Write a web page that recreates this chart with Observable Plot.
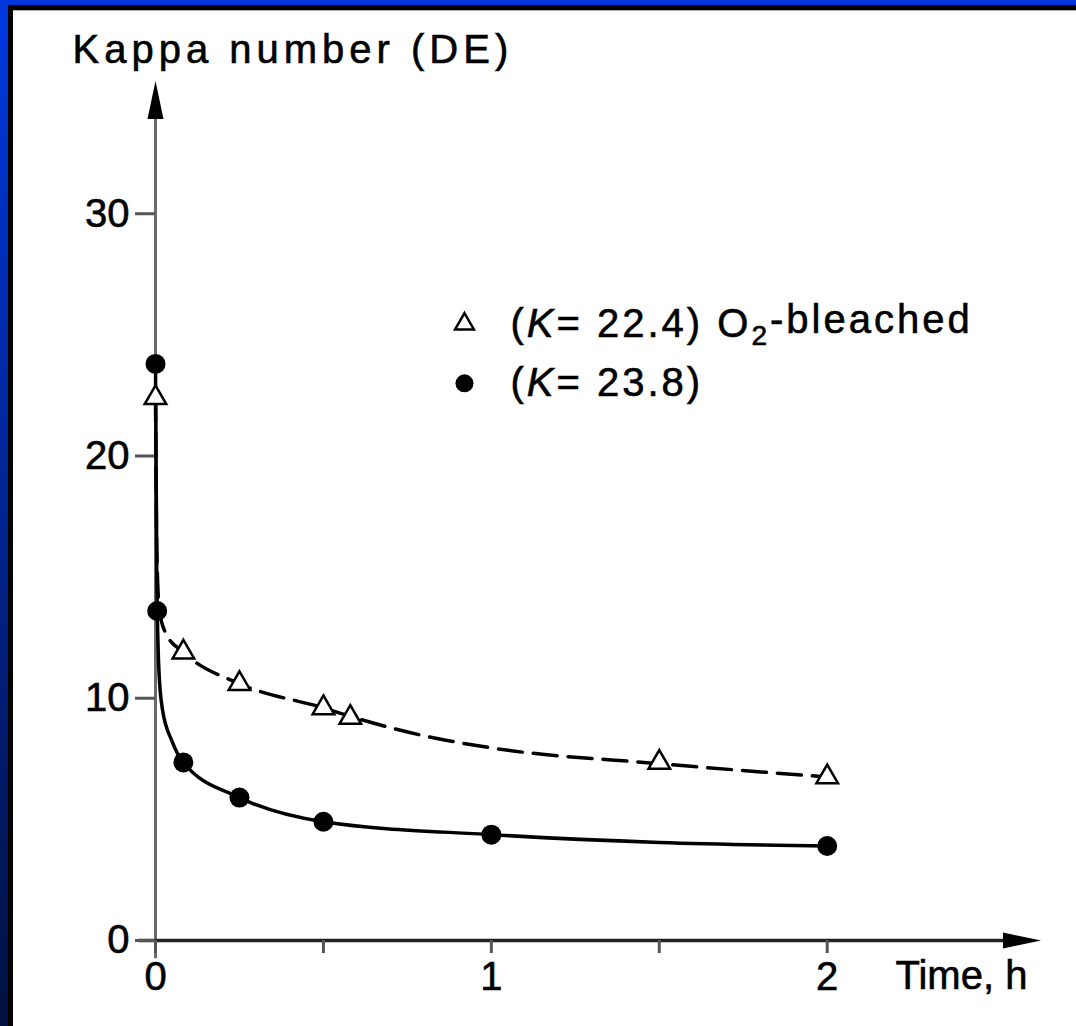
<!DOCTYPE html>
<html><head><meta charset="utf-8">
<script src="https://cdn.jsdelivr.net/npm/d3@7"></script>
<script src="https://cdn.jsdelivr.net/npm/@observablehq/plot@0.6"></script>
<style>
html,body{margin:0;padding:0;background:#fff;}
#frame{position:relative;width:1076px;height:1026px;background:#fff;overflow:hidden;}
.strip{position:absolute;}
#chart{position:absolute;left:0;top:0;}
#chart svg text{stroke:#000;stroke-width:0.6px;}
</style></head><body>
<div id="frame">
 <div class="strip" style="left:0;top:0;width:8px;height:1026px;background:linear-gradient(#0038e0,#001040);"></div>
 <div class="strip" style="left:0;top:0;width:1076px;height:5px;background:#0036dc;"></div>
 <div class="strip" style="left:8px;top:5px;width:5px;height:1021px;background:#000;"></div>
 <div class="strip" style="left:8px;top:5px;width:1068px;height:5px;background:#000;"></div>
 <div class="strip" style="left:13px;top:10px;width:1063px;height:1px;background:#b0b0b0;"></div>
 <div id="chart"></div>
</div>
<script>
// ---- data ----
const timeBleached = [0, 0.083, 0.25, 0.5, 0.58, 1.5, 2];
const kappaBleached = [22.4, 11.9, 10.6, 9.6, 9.2, 7.35, 6.75];
const timeUnbleached = [0, 0.005, 0.083, 0.25, 0.5, 1, 2];
const kappaUnbleached = [23.8, 13.6, 7.35, 5.9, 4.9, 4.37, 3.9];
// hand-drawn fitted curves
const curveBleachedT = [0, 0.004, 0.012, 0.03, 0.083, 0.25, 0.5, 0.58, 0.8, 1, 1.5, 2];
const curveBleachedK = [22.4, 16, 13.6, 12.7, 11.9, 10.6, 9.6, 9.25, 8.45, 7.95, 7.3, 6.75];
const curveUnbleachedT = [0, 0.004, 0.01, 0.02, 0.05, 0.083, 0.25, 0.5, 1, 1.5, 2];
const curveUnbleachedK = [23.8, 15, 11.2, 9.6, 8.2, 7.35, 5.9, 4.9, 4.37, 4.05, 3.9];
const yTicks = [0, 10, 20, 30];
const xTicks = [0, 0.5, 1, 1.5, 2];
const xTickLabels = ["0", "", "1", "", "2"];
const yLabel = "Kappa number (DE)";
const xLabel = "Time, h";
const legendLabels = ["(K= 22.4) O2-bleached", "(K= 23.8)"];
const legendSymbols = ["triangle", "circle"];

// ---- build tables ----
const bleached = timeBleached.map((t, i) => ({t, k: kappaBleached[i]}));
const unbleached = timeUnbleached.map((t, i) => ({t, k: kappaUnbleached[i]}));
const curveB = curveBleachedT.map((t, i) => ({t, k: curveBleachedK[i]}));
const curveU = curveUnbleachedT.map((t, i) => ({t, k: curveUnbleachedK[i]}));
const legendPos = {markerX: 0.92, textX: 1.057, ys: [25.45, 23.0]};
const legend = legendLabels.map((label, i) => ({label, symbol: legendSymbols[i], y: legendPos.ys[i]}));

const FONT = "'Liberation Sans', Arial, Helvetica, sans-serif";
const arrowHead = {draw(ctx) { ctx.moveTo(0, -19); ctx.lineTo(8, 19); ctx.lineTo(-8, 19); ctx.closePath(); }};

const chart = Plot.plot({
  width: 1076, height: 1026,
  marginLeft: 155, marginRight: 31, marginTop: 80, marginBottom: 86,
  x: {domain: [0, 2.65]},
  y: {domain: [0, 35.5]},
  style: {background: "transparent", fontFamily: FONT, color: "#000", overflow: "visible"},
  marks: [
    Plot.ruleX([0], {y1: -0.75, y2: 34.5, stroke: "#6a6a6a", strokeWidth: 3}),
    Plot.ruleY([0], {x1: -0.05, x2: 2.6, stroke: "#222", strokeWidth: 3.5}),
    Plot.dot([{x: 0, y: 34.7}], {x: "x", y: "y", symbol: arrowHead, fill: "#000", stroke: null}),
    Plot.dot([{x: 2.58, y: 0}], {x: "x", y: "y", symbol: arrowHead, rotate: 90, fill: "#000", stroke: null}),
    Plot.axisY({ticks: yTicks, tickSize: 20, tickPadding: 6, fontSize: 40, stroke: "#555", strokeWidth: 3, label: null}),
    Plot.axisX({ticks: xTicks, tickFormat: (d) => xTickLabels[xTicks.indexOf(d)], tickSize: 13, tickPadding: 8, fontSize: 40, stroke: "#555", strokeWidth: 3, label: null}),
    Plot.line(curveU, {x: "t", y: "k", curve: "monotone-x", stroke: "#000", strokeWidth: 3.5}),
    Plot.line(curveB, {x: "t", y: "k", curve: "monotone-x", stroke: "#000", strokeWidth: 3.5, strokeDasharray: "24,11"}),
    Plot.dot(unbleached, {x: "t", y: "k", r: 10, fill: "#000", stroke: null}),
    Plot.dot(bleached, {x: "t", y: "k", symbol: "triangle", r: 8, fill: "#fff", stroke: "#000", strokeWidth: 2.5}),
    Plot.dot(legend.filter(d => d.symbol === "triangle"), {x: () => legendPos.markerX, y: "y", symbol: "triangle", r: 7, fill: "#fff", stroke: "#000", strokeWidth: 2.5}),
    Plot.dot(legend.filter(d => d.symbol === "circle"), {x: () => legendPos.markerX, y: "y", r: 9, fill: "#000", stroke: null}),
    Plot.text(legend, {x: () => legendPos.textX, y: "y", text: "label", textAnchor: "start", fontSize: 40, fill: "#000"}),
    Plot.text([yLabel], {frameAnchor: "top-left", lineAnchor: "middle", dx: -83, dy: -30, textAnchor: "start", fontSize: 40, fill: "#000"}),
    Plot.text([xLabel], {frameAnchor: "bottom-right", lineAnchor: "middle", dx: -150, dy: 36, textAnchor: "start", fontSize: 40, fill: "#000"})
  ]
});
document.getElementById("chart").appendChild(chart);

// italic K and subscript 2 in the legend; letter spacing like the scanned lettering
d3.select(chart).selectAll("text").each(function() {
  const s = this.textContent;
  if (s === yLabel) { this.setAttribute("letter-spacing", "5"); return; }
  if (!legendLabels.includes(s)) return;
  this.setAttribute("letter-spacing", "3");
  const m = s.match(/^\((K)(.*?)(?:O(2)(.*))?$/);
  while (this.firstChild) this.removeChild(this.firstChild);
  const sel = d3.select(this);
  sel.append("tspan").text("(");
  sel.append("tspan").attr("font-style", "italic").text(m[1]);
  if (m[3]) {
    sel.append("tspan").text(m[2] + "O");
    sel.append("tspan").attr("dy", "0.3em").attr("font-size", "70%").text(m[3]);
    sel.append("tspan").attr("dy", "-0.3em").text(m[4]);
  } else {
    sel.append("tspan").text(m[2]);
  }
});
</script>
</body></html>
